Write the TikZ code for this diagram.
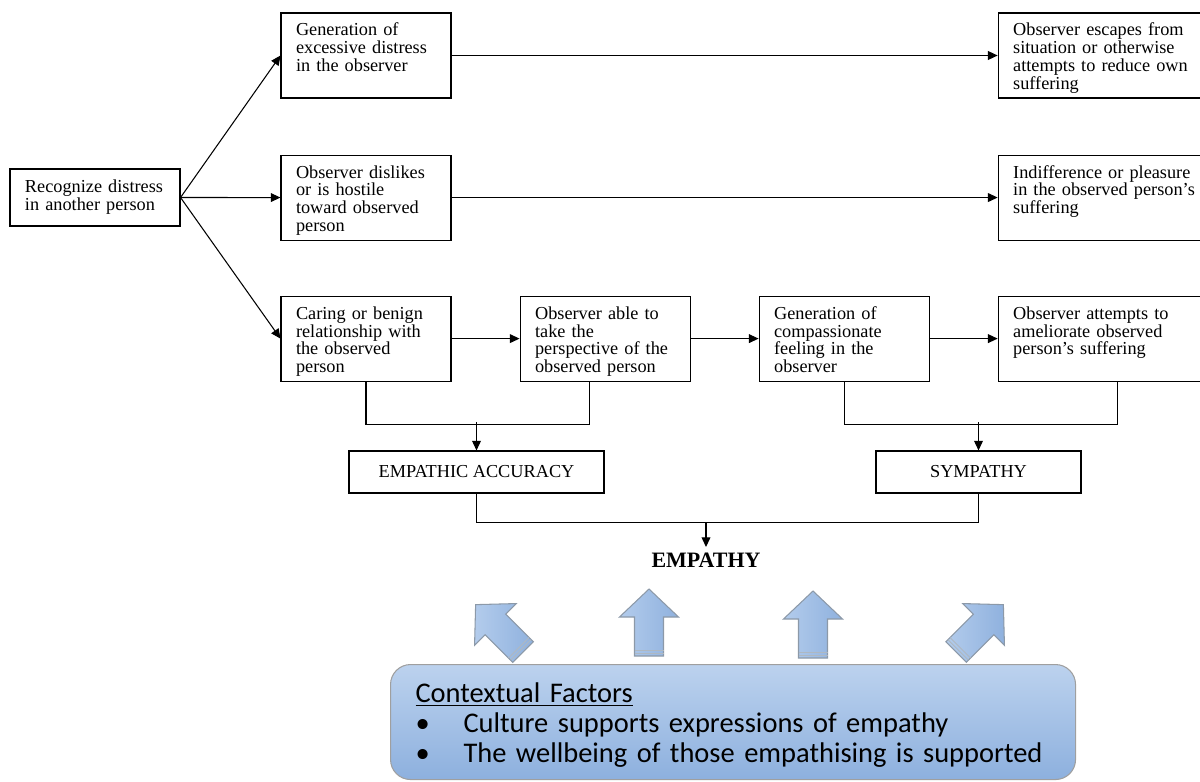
\documentclass[tikz,border=0pt]{standalone}
\usepackage{fontspec}
\setmainfont{Liberation Serif}
\newfontfamily\calibri{Carlito}
\usetikzlibrary{positioning,arrows.meta}

\definecolor{ctxtop}{HTML}{BCD2EE}
\definecolor{ctxbot}{HTML}{8DB0DE}
\definecolor{arrlight}{HTML}{B3CCEC}
\definecolor{arrdark}{HTML}{8FB1DE}
\definecolor{arredge}{HTML}{8C99A8}

\begin{document}
\begin{tikzpicture}[>={Triangle[length=5.5pt,width=5pt]}, line width=0.6pt,
	tb/.style={draw, align=left, text width=2.8cm, inner xsep=0.3cm, inner ysep=0.15cm, text height=0.31cm, text depth=1.09cm, font={\fontsize{10.4}{10.2}\selectfont}},
	tbw/.style={tb, text width=3.7cm},
	rb/.style={draw, align=left, text width=2.8cm, inner xsep=0.3cm, minimum height=1.14cm, font={\fontsize{10.4}{10.2}\selectfont}},
	sb/.style={draw, minimum height=0.84cm, font={\fontsize{10.4}{10.2}\selectfont}},
	ctx/.style={draw=gray!75, rounded corners=0.4cm, top color=ctxtop, bottom color=ctxbot, align=left, text width=12.7cm, inner xsep=0.5cm, inner ysep=0.3cm, text height=0.46cm, text depth=1.24cm, font={\calibri\fontsize{16.2}{17}\selectfont}},
	bluearrow/.pic={
		\draw[arredge, line width=0.6pt, left color=arrlight, right color=arrdark] (-0.29,0) -- (-0.29,0.78) -- (-0.59,0.78) -- (0,1.34) -- (0.59,0.78) -- (0.29,0.78) -- (0.29,0) -- cycle;
		\draw[arredge!70, line width=0.5pt] (-0.29,0.06) -- (0.29,0.06) (-0.29,0.12) -- (0.29,0.12);
	}]
	\useasboundingbox (0,0) rectangle (24,-15.62);

	% first column
	\node[rb] (recog) at (1.9,-3.95) {Recognize distress\\in another person};

	% three routes
	\node[tb] (excess) at (7.32,-1.11) {Generation of\\excessive distress\\in the observer};
	\node[tb, below=1.12cm of excess] (dislike) {Observer dislikes\\or is hostile\\toward observed\\person};
	\node[tb, below=1.1cm of dislike] (care) {Caring or benign\\relationship with\\the observed\\person};
	\node[tb, right=1.36cm of care] (persp) {Observer able to\\take the\\perspective of the\\observed person};
	\node[tb, right=1.36cm of persp] (compass) {Generation of\\compassionate\\feeling in the\\observer};
	\node[tbw, right=1.36cm of compass] (ameliorate) {Observer attempts to\\ameliorate observed\\person's suffering};
	\node[tbw, above=1.1cm of ameliorate] (indiff) {Indifference or pleasure\\in the observed person's\\suffering};
	\node[tbw, above=1.12cm of indiff] (escape) {Observer escapes from\\situation or otherwise\\attempts to reduce own\\suffering};

	\draw[->] (recog.east) -- (excess.west);
	\draw[->] (recog.east) -- (dislike.west);
	\draw[->] (recog.east) -- (care.west);
	\draw[->] (excess) -- (escape);
	\draw[->] (dislike) -- (indiff);
	\draw[->] (care) -- (persp);
	\draw[->] (persp) -- (compass);
	\draw[->] (compass) -- (ameliorate);

	% accuracy and sympathy
	\node[sb, minimum width=5.1cm] (accuracy) at (9.53,-9.44) {EMPATHIC ACCURACY};
	\node[sb, minimum width=4.1cm] (sympathy) at (19.57,-9.44) {SYMPATHY};
	\coordinate[above=0.56cm of accuracy] (accj);
	\coordinate[above=0.56cm of sympathy] (symj);

	\draw (care.south) -- ++(0,-0.86) -| ([xshift=-0.32cm]persp.south);
	\draw (compass.south) -- ++(0,-0.86) -| ([xshift=0.24cm]ameliorate.south);
	\draw[->] (accj) -- (accuracy);
	\draw[->] (symj) -- (sympathy);

	% empathy
	\coordinate (empj) at (14.12,-10.44);
	\node[below=0.5cm of empj, font={\bfseries\fontsize{12.5}{12}\selectfont}] (empathy) {EMPATHY};
	\draw (accuracy.south) -- ++(0,-0.58) -| (sympathy.south);
	\draw[->] (empj) -- (empathy);

	% contextual factors
	\pic[rotate=45] (arrowa) at (10.46,-13.04) {bluearrow};
	\pic (arrowb) at (12.98,-13.12) {bluearrow};
	\pic (arrowc) at (16.26,-13.16) {bluearrow};
	\pic[rotate=-45] (arrowd) at (19.12,-13.04) {bluearrow};

	\node[ctx, anchor=north west] (context) at (7.8,-13.28) {\underline{Contextual Factors}\\\makebox[0.96cm][l]{\textbullet}Culture supports expressions of empathy\\\makebox[0.96cm][l]{\textbullet}The wellbeing of those empathising is supported};
\end{tikzpicture}
\end{document}
